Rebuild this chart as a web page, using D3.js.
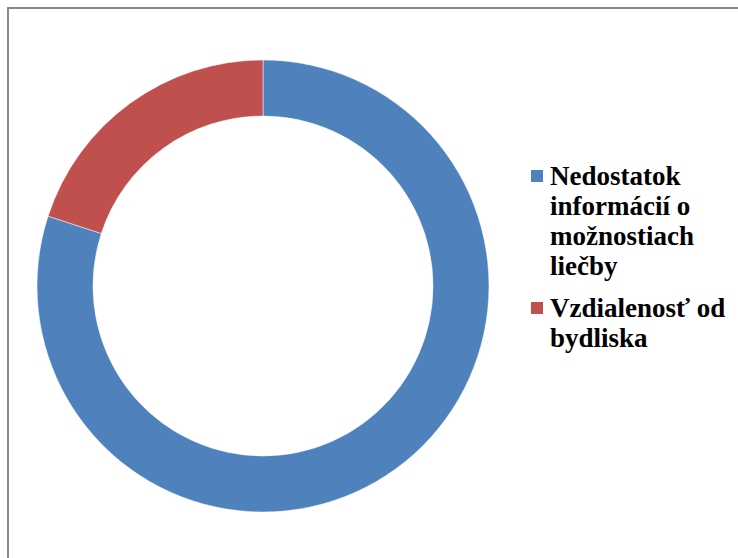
<!DOCTYPE html>
<html>
<head>
<meta charset="utf-8">
<script src="https://cdn.jsdelivr.net/npm/d3@7"></script>
<style>
  body { margin: 0; background: #fff; }
  svg { display: block; }
  .legend text { font-family: "Times New Roman", "Liberation Serif", "DejaVu Serif", serif; font-weight: 700; font-size: 27px; fill: #000; }
</style>
</head>
<body>
<svg id="chart" width="738" height="558"></svg>
<script>
// dáta
var categories = ["Nedostatok informácií o možnostiach liečby", "Vzdialenosť od bydliska"];
var values = [80, 20];
var legendLines = [
  ["Nedostatok", "informácií o", "možnostiach", "liečby"],
  ["Vzdialenosť od", "bydliska"]
];
var colors = ["#4F81BD", "#C0504D"];

var svg = d3.select("#chart");

// rámček
svg.append("path")
  .attr("d", "M8,560 V8 H740")
  .attr("fill", "none")
  .attr("stroke", "#898989")
  .attr("stroke-width", 2);

var cx = 263, cy = 286, outerR = 226, innerR = 170;

var pie = d3.pie().value(function(d) { return d; }).sort(null);
var arc = d3.arc().innerRadius(innerR).outerRadius(outerR);
var color = d3.scaleOrdinal().domain(categories).range(colors);

var g = svg.append("g").attr("transform", "translate(" + cx + "," + cy + ")");
g.selectAll("path")
  .data(pie(values))
  .enter().append("path")
  .attr("d", arc)
  .attr("fill", function(d, i) { return color(categories[i]); })
  .attr("stroke", "#fff")
  .attr("stroke-width", 0.5);

// legenda
var lineH = 30, itemGap = 12;
var legend = svg.append("g").attr("class", "legend").attr("transform", "translate(531,0)");
var y = 185;
legendLines.forEach(function(lines, i) {
  legend.append("rect")
    .attr("x", 0).attr("y", y - 15)
    .attr("width", 12).attr("height", 12)
    .attr("fill", color(categories[i]));
  var t = legend.append("text").attr("x", 19).attr("y", y);
  lines.forEach(function(s, j) {
    t.append("tspan").attr("x", 19).attr("y", y + j * lineH).text(s);
  });
  y += lines.length * lineH + itemGap;
});
</script>
</body>
</html>
